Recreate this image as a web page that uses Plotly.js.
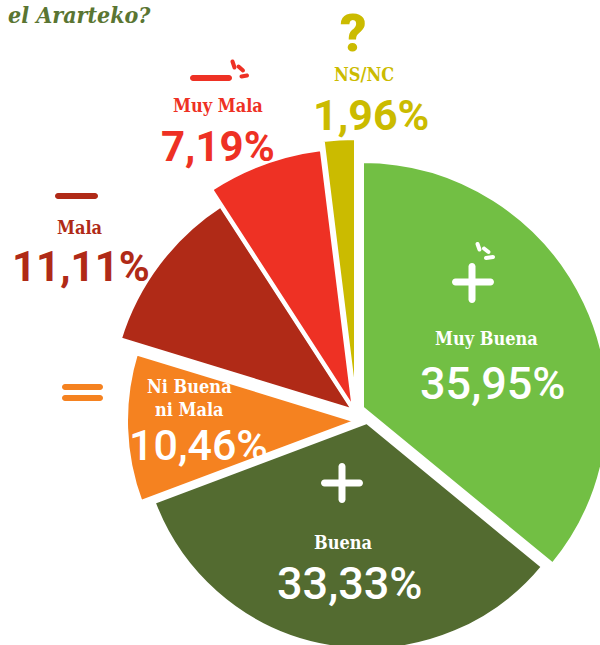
<!DOCTYPE html>
<html>
<head>
<meta charset="utf-8">
<script src="https://cdn.plot.ly/plotly-3.0.1.min.js"></script>
<style>
html,body{margin:0;padding:0;background:#fff;overflow:hidden;width:600px;height:645px;}
#chart{width:700px;height:700px;}
</style>
</head>
<body>
<div id="chart"></div>
<script>
// ---- data ----
const categories = ["Muy Buena", "Buena", "Ni Buena<br>ni Mala", "Mala", "Muy Mala", "NS/NC"];
const values = [35.95, 33.33, 10.46, 11.11, 7.19, 1.96];
const titleText = "el Ararteko?";

// ---- style ----
const colors = ["#72bf44", "#536b30", "#f58220", "#b02a17", "#ee3124", "#cbbb00"];
const W = 700, H = 700;
// per-slice wedge geometry (page pixels): centre and radius
const geom = [
  {cx: 362, cy: 408, r: 247},
  {cx: 367, cy: 422, r: 228},
  {cx: 357, cy: 421, r: 231},
  {cx: 354, cy: 411, r: 245},
  {cx: 354, cy: 410, r: 263},
  {cx: 356, cy: 410, r: 272}
];
// label placement (page pixels)
const pctPos = [
  {x: 493, y: 383, size: 45, color: "#fff", weight: 500},
  {x: 350, y: 583, size: 45, color: "#fff", weight: 500},
  {x: 198, y: 445, size: 43, color: "#fff", weight: 500},
  {x: 81,  y: 266, size: 42, color: colors[3], weight: 700},
  {x: 218, y: 147, size: 42, color: colors[4], weight: 700},
  {x: 371, y: 115, size: 43, color: colors[5], weight: 700}
];
const catPos = [
  {x: 486, y: 338, color: "#fff"},
  {x: 343, y: 542, color: "#fff"},
  {x: 189, y: 398, color: "#fff"},
  {x: 80,  y: 227, color: colors[3]},
  {x: 218, y: 105, color: colors[4]},
  {x: 364, y: 74,  color: colors[5]}
];

const px = x => x / W;
const py = y => 1 - y / H;

const traces = categories.map((c, i) => ({
  type: "pie",
  values: values,
  labels: categories,
  sort: false,
  direction: "clockwise",
  rotation: 0,
  textinfo: "none",
  textposition: "none",
  hoverinfo: "label+percent",
  showlegend: false,
  marker: {
    colors: colors.map((col, j) => j === i ? col : "rgba(0,0,0,0)"),
    line: {color: "#ffffff", width: categories.map((_, j) => j === i ? 4 : 0)}
  },
  domain: {
    x: [px(geom[i].cx - geom[i].r), px(geom[i].cx + geom[i].r)],
    y: [py(geom[i].cy + geom[i].r), py(geom[i].cy - geom[i].r)]
  }
}));

const pctFont = "Roboto, 'Noto Sans', sans-serif";
const labFont = "'DejaVu Serif Condensed', 'DejaVu Serif', serif";

const annotations = [];
values.forEach((v, i) => {
  const p = pctPos[i];
  annotations.push({
    xref: "paper", yref: "paper", x: px(p.x), y: py(p.y),
    xanchor: "center", yanchor: "middle", showarrow: false,
    text: v.toFixed(2).replace(".", ",") + "%",
    font: {family: pctFont, size: p.size, color: p.color, weight: p.weight}
  });
  const q = catPos[i];
  annotations.push({
    xref: "paper", yref: "paper", x: px(q.x), y: py(q.y),
    xanchor: "center", yanchor: "middle", showarrow: false,
    text: categories[i],
    font: {family: labFont, size: 18, color: q.color, weight: 700}
  });
});
annotations.push({
  xref: "paper", yref: "paper", x: px(353), y: py(33),
  xanchor: "center", yanchor: "middle", showarrow: false,
  text: "?", font: {family: pctFont, size: 52, color: colors[5], weight: 900}
});
annotations.push({
  xref: "paper", yref: "paper", x: px(6), y: py(14),
  xanchor: "left", yanchor: "middle", showarrow: false,
  text: "<b><i>" + titleText + "</i></b>",
  font: {family: labFont, size: 23, color: "#5a7532"}
});

// rounded stroke as filled path
function capsule(x1, y1, x2, y2, w, color) {
  const dx = x2 - x1, dy = y2 - y1, L = Math.hypot(dx, dy) || 1;
  const ux = dx / L, uy = dy / L, nx = -uy, ny = ux, h = w / 2, k = 0.5523 * h;
  const P = (x, y) => px(x).toFixed(5) + "," + py(y).toFixed(5);
  const A = [x1 + nx * h, y1 + ny * h], B = [x2 + nx * h, y2 + ny * h];
  const C = [x2 - nx * h, y2 - ny * h], D = [x1 - nx * h, y1 - ny * h];
  const T2 = [x2 + ux * h, y2 + uy * h], T1 = [x1 - ux * h, y1 - uy * h];
  const path = "M" + P(A[0], A[1]) + " L" + P(B[0], B[1]) +
    " C" + P(B[0] + ux * k, B[1] + uy * k) + " " + P(T2[0] + nx * k, T2[1] + ny * k) + " " + P(T2[0], T2[1]) +
    " C" + P(T2[0] - nx * k, T2[1] - ny * k) + " " + P(C[0] + ux * k, C[1] + uy * k) + " " + P(C[0], C[1]) +
    " L" + P(D[0], D[1]) +
    " C" + P(D[0] - ux * k, D[1] - uy * k) + " " + P(T1[0] - nx * k, T1[1] - ny * k) + " " + P(T1[0], T1[1]) +
    " C" + P(T1[0] + nx * k, T1[1] + ny * k) + " " + P(A[0] - ux * k, A[1] - uy * k) + " " + P(A[0], A[1]) + " Z";
  return {type: "path", xref: "paper", yref: "paper", path: path, fillcolor: color, line: {width: 0}, layer: "above"};
}

const shapes = [
  // Muy Buena: plus with sparks
  capsule(455.5, 282, 490.5, 282, 7, "#fff"),
  capsule(472, 266.5, 472, 299.5, 7, "#fff"),
  capsule(477.5, 244, 479.5, 249.5, 4, "#fff"),
  capsule(484, 248.5, 488.5, 252, 4, "#fff"),
  capsule(486, 258, 493, 257, 4, "#fff"),
  // Buena: plus
  capsule(324.5, 483, 359.5, 483, 7, "#fff"),
  capsule(342, 466.5, 342, 499.5, 7, "#fff"),
  // Ni Buena ni Mala: equals
  capsule(65, 387, 100, 387, 6, colors[2]),
  capsule(65, 398, 100, 398, 6, colors[2]),
  // Mala: minus
  capsule(58, 196, 95, 196, 6, colors[3]),
  // Muy Mala: minus with sparks
  capsule(193, 78, 229, 78, 6, colors[4]),
  capsule(232.5, 61.5, 234.5, 67.5, 4, colors[4]),
  capsule(238.5, 66.5, 243, 70.5, 4, colors[4]),
  capsule(241.5, 76.5, 247, 75.5, 4, colors[4])
];

const layout = {
  width: W, height: H,
  margin: {l: 0, r: 0, t: 0, b: 0},
  paper_bgcolor: "#fff",
  showlegend: false,
  annotations: annotations,
  shapes: shapes
};

Plotly.newPlot("chart", traces, layout, {displayModeBar: false, staticPlot: true});
</script>
</body>
</html>
